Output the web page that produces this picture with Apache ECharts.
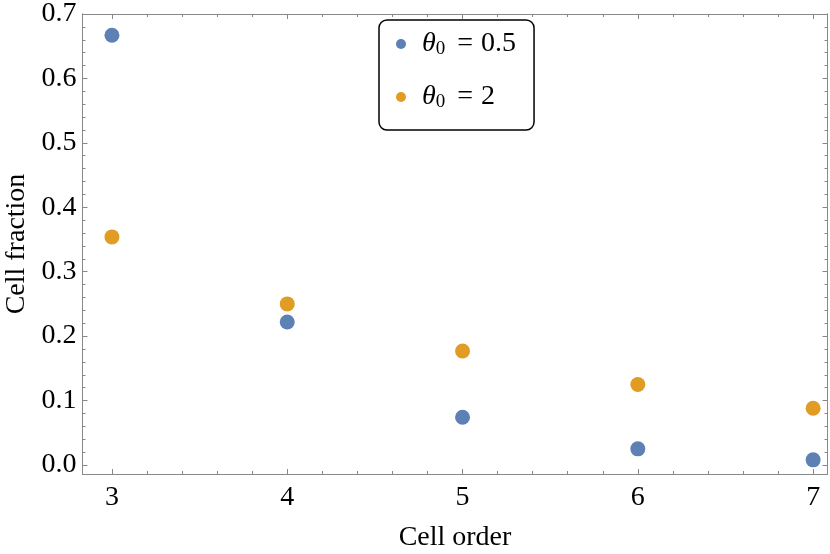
<!DOCTYPE html>
<html>
<head>
<meta charset="utf-8">
<script src="https://cdn.jsdelivr.net/npm/echarts@6/dist/echarts.min.js"></script>
<style>
html, body { margin: 0; padding: 0; background: #fff; }
#chart { width: 830px; height: 554px; }
</style>
</head>
<body>
<div id="chart"></div>
<script>
// cell order on x, fraction on y
var cellOrder = [3, 4, 5, 6, 7];
var theta05 = [0.667, 0.222, 0.074, 0.025, 0.008];
var theta2 = [0.354, 0.250, 0.177, 0.125, 0.088];

var xMajor = [3, 4, 5, 6, 7];
var xMinor = [3.2, 3.4, 3.6, 3.8, 4.2, 4.4, 4.6, 4.8, 5.2, 5.4, 5.6, 5.8, 6.2, 6.4, 6.6, 6.8];
var yMajor = [0, 0.1, 0.2, 0.3, 0.4, 0.5, 0.6, 0.7];
var yMinor = [0.02, 0.04, 0.06, 0.08, 0.12, 0.14, 0.16, 0.18, 0.22, 0.24, 0.26, 0.28,
    0.32, 0.34, 0.36, 0.38, 0.42, 0.44, 0.46, 0.48, 0.52, 0.54, 0.56, 0.58, 0.62, 0.64, 0.66, 0.68];

var xMin = 2.832, xMax = 7.082, yMin = -0.014, yMax = 0.7;
var frameColor = '#888';
var font = 'Liberation Serif';

function pairs(xs, ys) {
    return xs.map(function (x, i) { return [x, ys[i]]; });
}

function xAx(pos, ticks, len, labels) {
    return {
        type: 'value', position: pos, min: xMin, max: xMax,
        axisLine: { show: true, onZero: false, lineStyle: { color: frameColor, width: 1 } },
        axisTick: { show: true, inside: true, length: len, customValues: ticks, lineStyle: { color: frameColor } },
        axisLabel: labels ? { show: true, customValues: ticks, margin: 10, color: '#000', fontFamily: font, fontSize: 28 } : { show: false },
        splitLine: { show: false }
    };
}

function yAx(pos, ticks, len, labels) {
    return {
        type: 'value', position: pos, min: yMin, max: yMax,
        axisLine: { show: true, onZero: false, lineStyle: { color: frameColor, width: 1 } },
        axisTick: { show: true, inside: true, length: len, customValues: ticks, lineStyle: { color: frameColor } },
        axisLabel: labels ? {
            show: true, customValues: ticks, margin: 6, color: '#000', fontFamily: font, fontSize: 28,
            formatter: function (v) { return v.toFixed(1); }
        } : { show: false },
        splitLine: { show: false }
    };
}

var xAxes = [
    xAx('bottom', xMajor, 5, true),
    xAx('bottom', xMinor, 3, false),
    xAx('top', xMajor, 5, false),
    xAx('top', xMinor, 3, false)
];
xAxes[0].name = 'Cell order';
xAxes[0].nameLocation = 'middle';
xAxes[0].nameGap = 50;
xAxes[0].nameTextStyle = { color: '#000', fontFamily: font, fontSize: 28 };

var yAxes = [
    yAx('left', yMajor, 5, true),
    yAx('left', yMinor, 3, false),
    yAx('right', yMajor, 5, false),
    yAx('right', yMinor, 3, false)
];
yAxes[0].name = 'Cell fraction';
yAxes[0].nameLocation = 'middle';
yAxes[0].nameGap = 52;
yAxes[0].nameTextStyle = { color: '#000', fontFamily: font, fontSize: 28 };

var chart = echarts.init(document.getElementById('chart'), null, { renderer: 'canvas' });

chart.setOption({
    animation: false,
    backgroundColor: '#fff',
    grid: { left: 82.5, top: 14, right: 2.5, bottom: 80, containLabel: false, outerBoundsMode: 'none' },
    xAxis: xAxes,
    yAxis: yAxes,
    legend: {
        orient: 'vertical',
        left: 379, top: 20,
        padding: [9, 18, 18, 17],
        itemGap: 23,
        itemWidth: 10, itemHeight: 10,
        icon: 'circle',
        borderColor: '#000', borderWidth: 1.5, borderRadius: 8,
        backgroundColor: '#fff',
        data: ['0.5', '2'],
        formatter: function (name) {
            return '{g|}{i|θ}{s|0}{a|}{t|=}{b|}{t|' + name + '}';
        },
        textStyle: {
            fontFamily: font, fontSize: 28, color: '#000', lineHeight: 30,
            rich: {
                g: { width: 11 },
                a: { width: 12 },
                b: { width: 8 },
                i: { fontFamily: font, fontSize: 28, fontStyle: 'italic', color: '#000' },
                s: { fontFamily: font, fontSize: 19, color: '#000', padding: [11, 0, 0, 0] },
                t: { fontFamily: font, fontSize: 28, color: '#000' }
            }
        }
    },
    series: [
        {
            name: '0.5', type: 'scatter', symbol: 'circle', symbolSize: 15,
            xAxisIndex: 0, yAxisIndex: 0,
            itemStyle: { color: '#5E81B5', opacity: 1 },
            data: pairs(cellOrder, theta05)
        },
        {
            name: '2', type: 'scatter', symbol: 'circle', symbolSize: 15,
            xAxisIndex: 0, yAxisIndex: 0,
            itemStyle: { color: '#E19C24', opacity: 1 },
            data: pairs(cellOrder, theta2)
        }
    ]
});
</script>
</body>
</html>
